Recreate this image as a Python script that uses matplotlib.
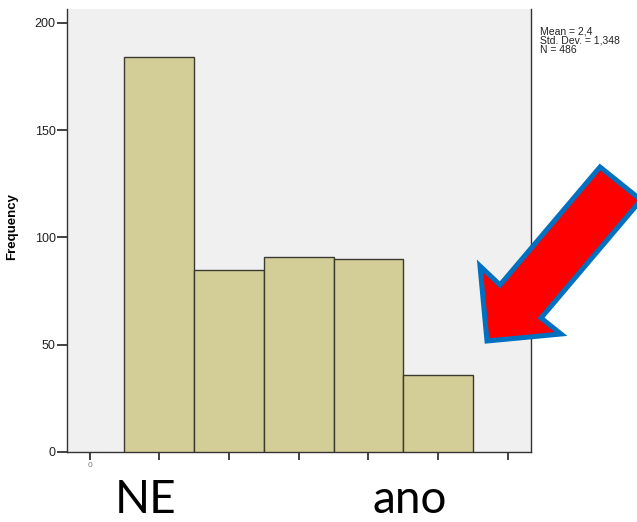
import matplotlib
matplotlib.use("Agg")
import matplotlib.pyplot as plt
from matplotlib.patches import Polygon

plt.rcParams["font.family"] = ["Liberation Sans", "DejaVu Sans"]

# histogram data (bins centred on 1..5)
bin_centers = [1, 2, 3, 4, 5]
frequencies = [184, 85, 91, 90, 36]
x_ticks = [0, 1, 2, 3, 4, 5, 6]
y_ticks = [0, 50, 100, 150, 200]
stats_lines = ["Mean = 2,4", "Std. Dev. = 1,348", "N = 486"]

fig = plt.figure(figsize=(6.37, 5.22), dpi=100)
ax = fig.add_axes([0.105, 0.1341, 0.7284, 0.8487])
ax.set_facecolor("#F0F0F0")

ax.bar(bin_centers, frequencies, width=1.0, color="#D3CE97",
       edgecolor="#3A3A30", linewidth=1.0, zorder=3)

ax.set_xlim(-0.326, 6.33)
ax.set_ylim(0, 206.5)
ax.set_yticks(y_ticks)
ax.set_xticks(x_ticks)
ax.set_xticklabels(["0"] + [""] * (len(x_ticks) - 1))
ax.tick_params(axis="y", direction="out", length=7, width=1.2,
               labelsize=9, colors="#222222", pad=1)
ax.tick_params(axis="x", direction="out", length=6, width=1.2,
               labelsize=6, colors="#222222", pad=1)
for lab in ax.get_xticklabels():
    lab.set_alpha(0.6)

ax.spines["top"].set_visible(False)
for side in ("left", "bottom", "right"):
    ax.spines[side].set_color("#333333")
    ax.spines[side].set_linewidth(1.0)

ax.set_ylabel("Frequency", fontsize=9.5, fontweight="bold")
ax.yaxis.set_label_coords(-0.106, 0.51)

fig.text(540 / 637, 1 - 26 / 522, "\n".join(stats_lines), fontsize=7.5,
         va="top", ha="left", color="#222222", linespacing=0.95)

# big annotation words (kept just inside the bottom edge)
fig.text(115 / 637, 1 - 513 / 522, "NE", fontsize=33, family="Lato",
         ha="left", va="baseline")
fig.text(372 / 637, 1 - 513 / 522, "ano", fontsize=33, family="Lato",
         ha="left", va="baseline")

# red arrow drawn in figure pixel space
W, H = 637.0, 522.0
pts = [(487, 341), (561, 334), (541, 318), (641, 200),
       (600, 167), (500, 285), (480, 266)]
arrow = Polygon([(x / W, 1 - y / H) for x, y in pts], closed=True,
                transform=fig.transFigure, facecolor="#FF0000",
                edgecolor="#0070C0", linewidth=3.6, joinstyle="miter")
fig.patches.append(arrow)

fig.savefig("out.png", dpi=100)
